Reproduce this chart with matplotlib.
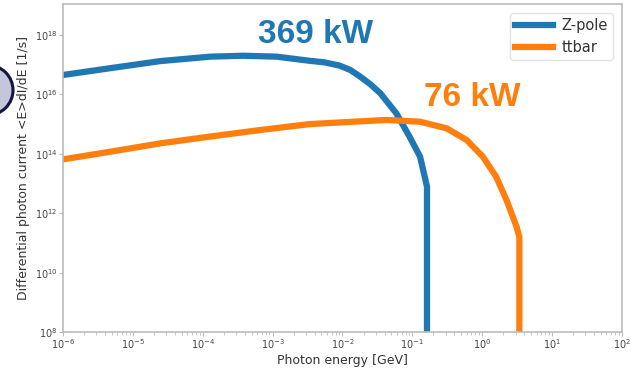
import matplotlib
matplotlib.use("Agg")
import matplotlib.pyplot as plt
from matplotlib.patches import Ellipse

# Z-pole spectrum (photon energy in GeV, differential current in 1/s)
zpole_energy = [1e-6, 4.7e-6, 2.46e-5, 1.27e-4, 3.8e-4, 1.15e-3, 3.4e-3, 5.5e-3,
                9.1e-3, 1.3e-2, 1.78e-2, 2.5e-2, 3.47e-2, 5.9e-2, 9.1e-2, 0.129,
                0.162, 0.162]
zpole_current = [4.5e16, 7.6e16, 1.32e17, 1.86e17, 2.0e17, 1.86e17, 1.35e17, 1.2e17,
                 9.3e16, 6.6e16, 4.0e16, 2.2e16, 1.1e16, 2.3e15, 3.8e14, 8.0e13,
                 7.8e12, 1e7]

# ttbar spectrum
ttbar_energy = [1e-6, 4.7e-6, 2.46e-5, 1.27e-4, 6.6e-4, 3.4e-3, 1.41e-2, 4.3e-2,
                0.129, 0.31, 0.60, 1.02, 1.58, 2.23, 3.1, 3.4, 3.4]
ttbar_current = [6.5e13, 1.17e14, 2.24e14, 3.8e14, 6.3e14, 1.0e15, 1.2e15, 1.38e15,
                 1.2e15, 7.2e14, 2.9e14, 8.0e13, 1.7e13, 2.75e12, 3.5e11, 1.6e11, 1e7]

labels = ["Z-pole", "ttbar"]
power_labels = ["369 kW", "76 kW"]

blue = "#1f77b4"
orange = "#ff7f0e"

fig = plt.figure(figsize=(6.34, 3.68), dpi=100)
ax = fig.add_axes([0.0994, 0.0978, 0.8816, 0.8912])

ax.plot(zpole_energy, zpole_current, color=blue, lw=4.5, label=labels[0],
        solid_joinstyle="round")
ax.plot(ttbar_energy, ttbar_current, color=orange, lw=4.5, label=labels[1],
        solid_joinstyle="round")

ax.set_xscale("log")
ax.set_yscale("log")
ax.set_xlim(1e-6, 1e2)
ax.set_ylim(1e8, 1.1e19)
ax.set_xticks([10.0 ** k for k in range(-6, 3)])
ax.set_yticks([10.0 ** k for k in range(8, 19, 2)])

ax.set_xlabel("Photon energy [GeV]", fontsize=9, color="#333333", labelpad=2)
ax.set_ylabel("Differential photon current <E>dI/dE [1/s]", fontsize=9,
              color="#333333", labelpad=3)

for s in ax.spines.values():
    s.set_color("#bbbbbb")
    s.set_linewidth(1.2)
ax.tick_params(axis="both", which="major", labelsize=7, colors="#bbbbbb",
               labelcolor="#444444", length=3, pad=1)
ax.tick_params(axis="both", which="minor", colors="#bbbbbb", length=2)

ax.text(4.1e-3, 1.0e18, power_labels[0], color=blue, fontsize=24,
        fontweight="bold", family="Liberation Sans", ha="center", va="center")
ax.text(0.71, 8.1e15, power_labels[1], color=orange, fontsize=24,
        fontweight="bold", family="Liberation Sans", ha="center", va="center")

leg = ax.legend(loc="upper right", fontsize=10.5, handlelength=2.6,
                handletextpad=0.6, borderpad=0.35, borderaxespad=0.6,
                labelspacing=0.5)
leg.get_frame().set_edgecolor("#dddddd")
for t in leg.get_texts():
    t.set_color("#333333")

# cropped circle badge at the left edge
fig.add_artist(Ellipse((-0.019, 0.755), 0.079, 0.136, transform=fig.transFigure,
                       facecolor="#c5c6dc", edgecolor="#14163f", lw=2.2,
                       clip_on=False))

fig.savefig("out.png", dpi=100)
